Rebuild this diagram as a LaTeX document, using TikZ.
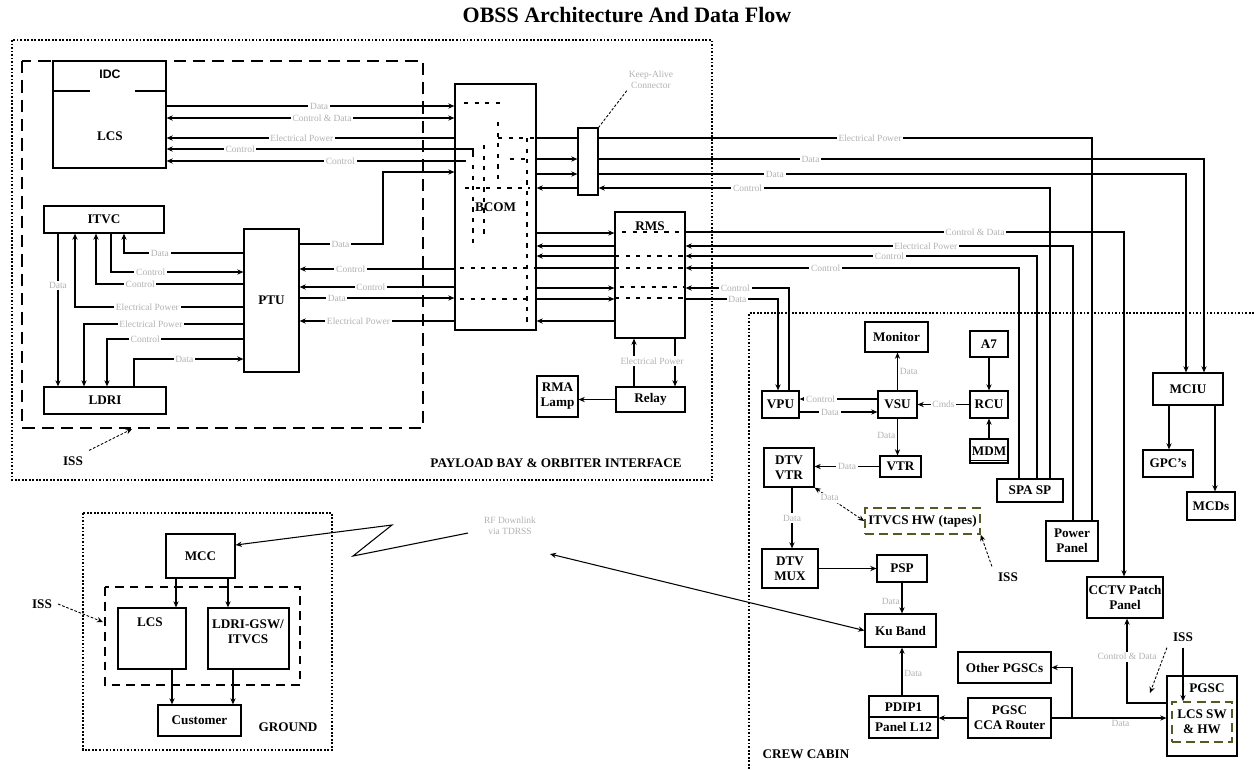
\documentclass[tikz,border=0pt]{standalone}
\usepackage{fontspec}
\setmainfont{Liberation Serif}
\setsansfont{Liberation Sans}
\usepackage{tikz}
\usetikzlibrary{arrows.meta,calc,positioning}

\newcommand{\boxfont}{\fontsize{7.5}{8.5}\selectfont\bfseries}
\newcommand{\lblfont}{\fontsize{5.4}{6}\selectfont}
\definecolor{olivedk}{RGB}{88,88,36}

\begin{document}
\begin{tikzpicture}[x=0.02cm,y=-0.02cm,>={Stealth[length=3.5pt,width=3pt]},
  blk/.style 2 args={draw,line width=0.7pt,minimum width=#1*0.02cm,minimum height=#2*0.02cm,inner sep=0pt,align=center,font=\boxfont},
  sig/.style={line width=0.6pt},
  lbl/.style={font=\lblfont,text=gray!60,fill=white,inner sep=1pt,align=center},
  tag/.style={font=\boxfont,align=center},
  region/.style={line width=0.6pt,dash pattern=on 1pt off 1pt},
  issbox/.style={line width=1pt,dash pattern=on 7pt off 4pt},
  bcomdash/.style={line width=0.6pt,dash pattern=on 2.5pt off 3.5pt},
  swbox/.style={draw=olivedk,line width=0.9pt,dash pattern=on 5pt off 3pt},
  pointer/.style={line width=0.5pt,dash pattern=on 1.5pt off 1pt,->}]

  \useasboundingbox (0,0) rectangle (1254,769);

  % Title
  \node[font=\fontsize{12.5}{14}\selectfont\bfseries] (title) at (627,15) {OBSS Architecture And Data Flow};

  % Regions
  \draw[region] (12,40) rectangle (712,480);
  \draw[issbox] (22,61) rectangle (423,428);
  \draw[region] (1254,313) -- (749,313) -- (749,769);
  \draw[region] (83,513) rectangle (332,750);
  \draw[issbox,dash pattern=on 5pt off 3.5pt] (105,587) rectangle (300,685);
  \node[tag] (bay) at (556,463) {PAYLOAD BAY \& ORBITER INTERFACE};
  \node[tag] (cabin) at (806,754) {CREW CABIN};
  \node[tag] (ground) at (288,727) {GROUND};

  % Payload bay boxes
  \node[blk={113}{107}] (lcs) at (109.5,114.5) {};
  \node[font=\sffamily\bfseries\fontsize{7}{8}\selectfont] (idc) at (110,74) {IDC};
  \node[tag] (lcst) at (110,136) {LCS};
  \draw[line width=1.5pt] (lcs.west |- 0,91) -- (90,91) (135,91) -- (lcs.east |- 0,91);
  \node[blk={120}{27}] (itvc) at (104,219.5) {ITVC};
  \node[blk={122}{27}] (ldri) at (105,400.5) {LDRI};
  \node[blk={55}{143}] (ptu) at (271.5,300.5) {PTU};
  \node[blk={81}{246}] (bcom) at (495.5,207) {BCOM};
  \node[blk={20}{67}] (ka) at (588,161.5) {};
  \node[lbl] (kal) at (651,80) {Keep-Alive\\Connector};
  \node[blk={70}{126}] (rms) at (650,275) {};
  \node[tag] (rmst) at (650,226) {RMS};
  \node[blk={69}{25}] (relay) at (650.5,399.5) {Relay};
  \node[blk={41}{41}] (lamp) at (557.5,396.5) {RMA\\Lamp};

  % BCOM and RMS internal routing
  \draw[bcomdash] (464,103) -- (505,103) (498,122) -- (498,180) (498,138) -- (535,138)
    (510,159) -- (530,159) (527,138) -- (527,325) (465,188) -- (530,188)
    (473,165) -- (473,245) (484,145) -- (484,235) (460,268) -- (535,268) (460,299) -- (530,299);
  \draw[bcomdash] (622,232) -- (683,232) (615,256) -- (685,256) (615,268) -- (685,268)
    (620,287) -- (685,287) (615,298) -- (685,298);

  % Crew cabin boxes
  \node[blk={63}{30}] (monitor) at (896.5,337) {Monitor};
  \node[blk={38}{26}] (a7) at (989,344) {A7};
  \node[blk={37}{27}] (vpu) at (780.5,404.5) {VPU};
  \node[blk={39}{27}] (vsu) at (897.5,404.5) {VSU};
  \node[blk={38}{27}] (rcu) at (989,404.5) {RCU};
  \node[blk={38}{24}] (mdm) at (989,451) {MDM};
  \draw[line width=0.6pt] ($(mdm.south west)+(0,-3)$) -- ($(mdm.south east)+(0,-3)$);
  \node[blk={70}{32}] (mciu) at (1188,389) {MCIU};
  \node[blk={50}{27}] (gpcs) at (1168,463.5) {GPC's};
  \node[blk={48}{28}] (mcds) at (1211,506) {MCDs};
  \node[blk={50}{39}] (dtvvtr) at (789,467.5) {DTV\\VTR};
  \node[blk={41}{21}] (vtr) at (900.5,466.5) {VTR};
  \node[blk={66}{23}] (spasp) at (1030,490.5) {SPA SP};
  \node[blk={52}{40}] (power) at (1072,541) {Power\\Panel};
  \node[blk={76}{41}] (cctv) at (1125,597.5) {CCTV Patch\\Panel};
  \node[blk={115}{26},swbox] (tapes) at (922.5,521) {ITVCS HW (tapes)};
  \node[blk={56}{39}] (dtvmux) at (790,568.5) {DTV\\MUX};
  \node[blk={50}{27}] (psp) at (902,568.5) {PSP};
  \node[blk={71}{33}] (ku) at (900.5,630.5) {Ku Band};
  \node[blk={69}{42}] (pdip) at (903.5,717) {PDIP1\\[3pt]Panel L12};
  \draw[line width=0.7pt] (pdip.west) -- (pdip.east);
  \node[blk={83}{40}] (router) at (1009.5,718) {PGSC\\CCA Router};
  \node[blk={93}{31}] (others) at (1004.5,667.5) {Other PGSCs};
  \node[blk={70}{80}] (pgsc) at (1202,716) {};
  \node[tag] (pgsct) at (1207,688) {PGSC};
  \node[blk={60}{40},swbox] (lcssw) at (1202,722) {LCS SW\\\& HW};

  % Ground boxes
  \node[blk={69}{44}] (mcc) at (200.5,556) {MCC};
  \node[blk={68}{61}] (lcsg) at (152,638.5) {};
  \node[tag] (lcsgt) at (150,622) {LCS};
  \node[blk={81}{61}] (ldrig) at (248.5,638.5) {};
  \node[tag] (ldrigt) at (248,632) {LDRI-GSW/\\ITVCS};
  \node[blk={83}{31}] (cust) at (199.5,720.5) {Customer};

  % LCS to BCOM
  \draw[sig,->] (lcs.east |- 0,106) -- node[lbl,pos=0.53] {Data} (bcom.west |- 0,106);
  \draw[sig,<->] (lcs.east |- 0,118) -- node[lbl,pos=0.54] {Control \& Data} (bcom.west |- 0,118);
  \draw[sig,<-] (lcs.east |- 0,138) -- node[lbl,pos=0.47] {Electrical Power} (bcom.west |- 0,138);
  \draw[sig,<-] (lcs.east |- 0,149) -- node[lbl,pos=0.24] {Control} (473,149) -- (473,157);
  \draw[sig,<-] (lcs.east |- 0,161) -- node[lbl,pos=0.58] {Control} (466,161);
  \draw[sig,->] (ptu.east |- 0,244) -- node[lbl,pos=0.49] {Data} (383,244) |- (bcom.west |- 0,172);

  % ITVC and LDRI to PTU
  \draw[sig,->] (itvc.south -| 58,0) -- node[lbl,pos=0.34] {Data} (ldri.north -| 58,0);
  \draw[sig,->] (ptu.west |- 0,307) -- node[lbl,pos=0.57] {Electrical Power} (75,307) -- (itvc.south -| 75,0);
  \draw[sig,->] (ptu.west |- 0,284) -- node[lbl,pos=0.70] {Control} (96,284) -- (itvc.south -| 96,0);
  \draw[sig,->] (itvc.south -| 111,0) |- node[lbl,pos=0.65] {Control} (ptu.west |- 0,272);
  \draw[sig,->] (ptu.west |- 0,253) -| node[lbl,pos=0.35] {Data} (itvc.south -| 124,0);
  \draw[sig,->] (ptu.west |- 0,324) -| node[lbl,pos=0.29] {Electrical Power} (ldri.north -| 84,0);
  \draw[sig,->] (ptu.west |- 0,339) -| node[lbl,pos=0.36] {Control} (ldri.north -| 107,0);
  \draw[sig,->] (ldri.north -| 134,0) |- node[lbl,pos=0.73] {Data} (ptu.west |- 0,359);

  % PTU to BCOM
  \draw[sig,->] (bcom.west |- 0,269) -- node[lbl,pos=0.67] {Control} (ptu.east |- 0,269);
  \draw[sig,->] (bcom.west |- 0,287) -- node[lbl,pos=0.54] {Control} (ptu.east |- 0,287);
  \draw[sig,->] (ptu.east |- 0,298) -- node[lbl,pos=0.24] {Data} (bcom.west |- 0,298);
  \draw[sig,->] (bcom.west |- 0,321) -- node[lbl,pos=0.62] {Electrical Power} (ptu.east |- 0,321);

  % BCOM to Keep-Alive connector and on to the cabin
  \draw[sig] (bcom.east |- 0,138) -- (ka.west |- 0,138);
  \draw[sig,->] (bcom.east |- 0,159) -- (ka.west |- 0,159);
  \draw[sig,->] (bcom.east |- 0,174) -- (ka.west |- 0,174);
  \draw[sig,<-] (bcom.east |- 0,188) -- (ka.west |- 0,188);
  \draw[pointer,-] (kal.south west) -- (ka.north east);
  \draw[sig] (ka.east |- 0,138) -| node[lbl,pos=0.275] {Electrical Power} (power.north -| 1092,0);
  \draw[sig,->] (ka.east |- 0,159) -| node[lbl,pos=0.175] {Data} (mciu.north -| 1204,0);
  \draw[sig,->] (ka.east |- 0,174) -| node[lbl,pos=0.15] {Data} (mciu.north -| 1186,0);
  \draw[sig,<-] (ka.east |- 0,188) -| node[lbl,pos=0.165] {Control} (spasp.north -| 1050,0);

  % BCOM to RMS
  \draw[sig,->] (bcom.east |- 0,233) -- (rms.west |- 0,233);
  \draw[sig,<-] (bcom.east |- 0,246) -- (rms.west |- 0,246);
  \draw[sig,<-] (bcom.east |- 0,256) -- (rms.west |- 0,256);
  \draw[sig] (bcom.east |- 0,268) -- (rms.west |- 0,268);
  \draw[sig,->] (bcom.east |- 0,288) -- (rms.west |- 0,288);
  \draw[sig,->] (bcom.east |- 0,299) -- (rms.west |- 0,299);
  \draw[sig,<-] (bcom.east |- 0,321) -- (rms.west |- 0,321);

  % RMS to the cabin
  \draw[sig,->] (rms.east |- 0,232) -| node[lbl,pos=0.33] {Control \& Data} (cctv.north -| 1124,0);
  \draw[sig,<-] (rms.east |- 0,246) -| node[lbl,pos=0.31] {Electrical Power} (power.north -| 1073,0);
  \draw[sig,<-] (rms.east |- 0,256) -| node[lbl,pos=0.29] {Control} (spasp.north -| 1037,0);
  \draw[sig,<-] (rms.east |- 0,268) -| node[lbl,pos=0.21] {Control} (spasp.north -| 1019,0);
  \draw[sig,<-] (rms.east |- 0,288) -| node[lbl,pos=0.24] {Control} (vpu.north -| 789,0);
  \draw[sig,->] (rms.east |- 0,299) -| node[lbl,pos=0.28] {Data} (vpu.north -| 778,0);

  % Relay and lamp
  \draw[sig,<-] (rms.south -| 634,0) -- (relay.north -| 634,0);
  \draw[sig,->] (rms.south -| 675,0) -- (relay.north -| 675,0);
  \node[lbl] (ep) at (652,361) {Electrical Power};
  \draw[sig,->] (relay.west) -- (lamp.east |- relay.west);

  % Video chain
  \draw[sig,->] (vsu.west |- 0,399) -- node[lbl,pos=0.73] {Control} (vpu.east |- 0,399);
  \draw[sig,->] (vpu.east |- 0,412) -- node[lbl,pos=0.39] {Data} (vsu.west |- 0,412);
  \draw[sig,->] (vsu.north) -- node[lbl,right,pos=0.5] {Data} (vsu.north |- monitor.south);
  \draw[sig,->] (rcu.west) -- node[lbl] {Cmds} (vsu.east);
  \draw[sig,->] (a7.south) -- (rcu.north);
  \draw[sig,->] (mdm.north) -- (rcu.south);
  \draw[sig,->] (vsu.south) -- node[lbl,left,pos=0.45] {Data} (vsu.south |- vtr.north);
  \draw[sig,->] (vtr.west) -- node[lbl] {Data} (dtvvtr.east |- vtr.west);
  \draw[pointer,<->] (dtvvtr.south east) -- node[lbl,pos=0.3] {Data} (tapes.west);
  \node[tag] (iss3) at (1008,577) {ISS};
  \draw[pointer] (iss3.north west) -- (tapes.south east);
  \draw[sig,->] (dtvvtr.south -| 792,0) -- node[lbl] {Data} (dtvmux.north -| 792,0);
  \draw[sig,->] (dtvmux.east) -- (psp.west);
  \draw[sig,->] (psp.south) -- node[lbl,left,pos=0.6] {Data} (psp.south |- ku.north);
  \draw[sig,->] (pdip.north -| 902,0) -- node[lbl,right,pos=0.45] {Data} (ku.south -| 902,0);

  % MCIU
  \draw[sig,->] (mciu.south -| 1169,0) -- (gpcs.north -| 1169,0);
  \draw[sig,->] (mciu.south -| 1215,0) -- (mcds.north -| 1215,0);

  % PGSC network
  \coordinate (br) at (1072,718);
  \coordinate (cd) at (1127,703);
  \draw[sig,->] (router.west) -- (pdip.east |- router.west);
  \draw[sig,->] (router.east) -- node[lbl,below,pos=0.6] {Data} (pgsc.west |- router.east);
  \draw[sig,->] (br) |- (others.east);
  \draw[sig,->] (pgsc.west |- cd) -- (cd) -- node[lbl,pos=0.55] {Control \& Data} (cd |- cctv.south);
  \node[tag] (iss4) at (1183,637) {ISS};
  \draw[pointer] (iss4.south west) -- (1150,693);
  \draw[sig,->] (iss4.south) -- (iss4.south |- lcssw.north);

  % Ground
  \draw[sig,->] (mcc.south -| 176,0) -- (lcsg.north -| 176,0);
  \draw[sig,->] (mcc.south -| 228,0) -- (ldrig.north -| 228,0);
  \draw[sig,->] (lcsg.south -| 172,0) -- (cust.north -| 172,0);
  \draw[sig,->] (ldrig.south -| 233,0) -- (cust.north -| 233,0);
  \node[tag] (iss2) at (42,604) {ISS};
  \draw[pointer] (iss2.east) -- (103,622);
  \node[tag] (iss1) at (73,461) {ISS};
  \draw[pointer] (iss1.north east) -- (132,429);

  % RF downlink
  \coordinate (rfa) at (468,533);
  \coordinate (rfb) at (550,554);
  \node[lbl] (rf) at (510,526) {RF Downlink\\via TDRSS};
  \draw[sig,->] (rfa) -- (353,556) -- (392,525) -- (mcc.east |- 0,545);
  \draw[sig,<->] (ku.west) -- (rfb);

\end{tikzpicture}
\end{document}
